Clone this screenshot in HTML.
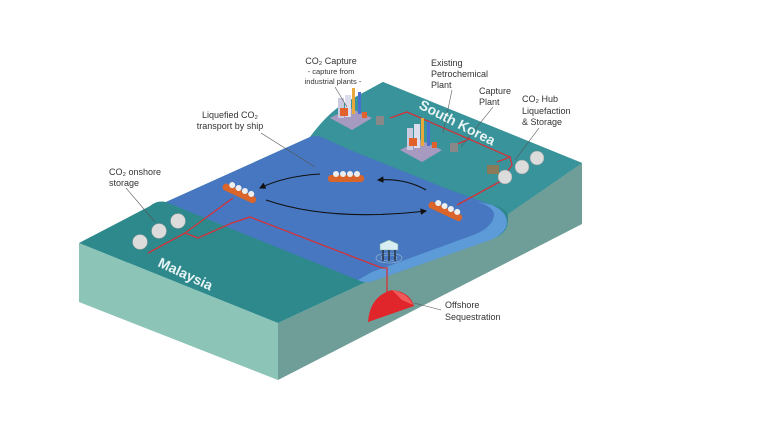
<!DOCTYPE html>
<html><head><meta charset="utf-8"><style>
html,body{margin:0;padding:0;background:#fff;width:768px;height:432px;overflow:hidden}
svg{display:block}
text{font-family:"Liberation Sans",sans-serif;fill:#333}
</style></head><body>
<svg width="768" height="432" viewBox="0 0 768 432">
<!-- front-left face -->
<polygon points="79,243 278,323 278,380 79,302" fill="#8cc4b7"/>
<!-- right face -->
<path d="M278,323 L364,283 L374,278 L490,240 Q508,234 508,222 L508,214 L582,163 L582,224 L278,380 Z" fill="#6f9d97"/>
<!-- top land base -->
<path d="M79,243 L150,206 Q157,200 166,202 L310,137 Q330,110 350,100 L383,82 L582,163 L508,214 L508,222 Q508,234 490,240 L374,278 L364,283 L278,323 Z" fill="#2d898c"/>
<!-- south korea land lighter -->
<path d="M310,137 Q330,110 350,100 L383,82 L582,163 L508,214 Q506,208 492,205 L450,190 L350,150 Z" fill="#38939a"/>
<!-- water -->
<path d="M166,202 L310,137 Q318,134 328,140 L350,150 L450,190 L492,205 Q506,211 507,222 Q507,233 490,240 L376,280 Q366,284 358,280 L227,227 Z" fill="#4677c0"/>
<!-- light water band -->
<path d="M462,198 L492,205 Q506,211 507,222 Q507,233 490,240 L376,280 Q366,284 358,280 L372,272 L476,234 Q494,226 494,214 Q493,204 462,198 Z" fill="#5c9bd8"/>
<!-- red pipes -->
<g stroke="#d2323a" stroke-width="1.3" fill="none">
<polyline points="148,253 185,233 198,238 232,223 250,217 382,268 387,268 387,296"/>
<polyline points="185,233 233,198"/>
<polyline points="390,118 407,112 510,157 497,162"/>
<polyline points="503,180 457,205"/>
<polyline points="455,145 467,140 470,138"/>
<polyline points="510,157 512,165 505,175"/>
</g>
<!-- dome -->
<path d="M368,322 Q370,296 392,290 Q410,292 414,306 Z" fill="#e0262a"/>
<path d="M392,290 Q408,293 413,305 L402,300 Z" fill="#f05a5a"/>
<!-- platform -->
<ellipse cx="389" cy="258" rx="13" ry="5" fill="none" stroke="#9bc" stroke-width="0.6"/>
<ellipse cx="389" cy="258" rx="8" ry="3" fill="none" stroke="#9bc" stroke-width="0.6"/>
<polygon points="380,244 389,240 398,244 398,250 380,250" fill="#d8eef2" stroke="#7aa" stroke-width="0.6"/>
<g stroke="#222" stroke-width="1.2"><line x1="383" y1="250" x2="383" y2="261"/><line x1="389" y1="250" x2="389" y2="261"/><line x1="395" y1="250" x2="395" y2="261"/></g>
<!-- spheres -->
<g fill="#dcdcdc" stroke="#999" stroke-width="0.5">
<circle cx="140" cy="242" r="7.5"/><circle cx="159" cy="231" r="7.5"/><circle cx="178" cy="221" r="7.5"/>
<circle cx="505" cy="177" r="7"/><circle cx="522" cy="167" r="7"/><circle cx="537" cy="158" r="7"/>
</g>
<rect x="487" y="165" width="12" height="9" fill="#8a7a5a"/>
<!-- plants -->
<g>
<polygon points="330,118 350,108 372,118 352,130" fill="#a79ac0"/>
<rect x="338" y="98" width="6" height="20" fill="#c9c9e0"/><rect x="345" y="95" width="6" height="22" fill="#dcdcec"/>
<rect x="352" y="88" width="3" height="26" fill="#e9a93a"/><rect x="358" y="92" width="3" height="22" fill="#4a6fd0"/>
<rect x="340" y="108" width="8" height="8" fill="#e2602c"/><rect x="362" y="112" width="5" height="6" fill="#e2602c"/>
<rect x="376" y="116" width="8" height="9" fill="#888"/>
<polygon points="400,150 420,140 442,150 422,162" fill="#a79ac0"/>
<rect x="407" y="128" width="6" height="22" fill="#c9c9e0"/><rect x="414" y="124" width="6" height="24" fill="#dcdcec"/>
<rect x="421" y="118" width="3" height="28" fill="#e9a93a"/><rect x="427" y="122" width="3" height="24" fill="#4a6fd0"/>
<rect x="409" y="138" width="8" height="8" fill="#e2602c"/><rect x="432" y="142" width="5" height="6" fill="#e2602c"/>
<rect x="450" y="143" width="8" height="9" fill="#888"/>
</g>
<!-- ships -->
<g>
<g transform="translate(346,177)"><rect x="-18" y="-2" width="36" height="7" rx="3" fill="#d9652a"/><g fill="#eee"><circle cx="-10" cy="-3" r="3"/><circle cx="-3" cy="-3" r="3"/><circle cx="4" cy="-3" r="3"/><circle cx="11" cy="-3" r="3"/></g></g>
<g transform="translate(240,192) rotate(25)"><rect x="-18" y="-2" width="36" height="7" rx="3" fill="#d9652a"/><g fill="#eee"><circle cx="-10" cy="-3" r="3"/><circle cx="-3" cy="-3" r="3"/><circle cx="4" cy="-3" r="3"/><circle cx="11" cy="-3" r="3"/></g></g>
<g transform="translate(446,210) rotate(25)"><rect x="-18" y="-2" width="36" height="7" rx="3" fill="#d9652a"/><g fill="#eee"><circle cx="-10" cy="-3" r="3"/><circle cx="-3" cy="-3" r="3"/><circle cx="4" cy="-3" r="3"/><circle cx="11" cy="-3" r="3"/></g></g>
</g>
<!-- arrows -->
<defs><marker id="a" markerWidth="6" markerHeight="6" refX="5" refY="3" orient="auto"><path d="M0,0 L6,3 L0,6 Z" fill="#111"/></marker></defs>
<g stroke="#111" stroke-width="1.1" fill="none">
<path d="M320,174 Q285,176 260,188" marker-end="url(#a)"/>
<path d="M426,190 Q405,178 378,180" marker-end="url(#a)"/>
<path d="M266,200 Q330,222 426,211" marker-end="url(#a)"/>
</g>
<!-- leader lines -->
<g stroke="#555" stroke-width="0.6">
<line x1="335" y1="87" x2="347" y2="107"/><line x1="452" y1="90" x2="443" y2="133"/>
<line x1="493" y1="107" x2="461" y2="147"/><line x1="539" y1="128" x2="515" y2="160"/>
<line x1="261" y1="133" x2="315" y2="167"/><line x1="126" y1="188" x2="155" y2="222"/>
<line x1="441" y1="310" x2="414" y2="303"/>
</g>
<!-- labels -->
<g font-size="9">
<text x="331" y="64" text-anchor="middle">CO₂ Capture</text>
<text x="331" y="74" text-anchor="middle" font-size="7.5">- capture from</text>
<text x="333" y="84" text-anchor="middle" font-size="7.5">industrial plants -</text>
<text x="431" y="66">Existing</text><text x="431" y="77">Petrochemical</text><text x="431" y="88">Plant</text>
<text x="479" y="94">Capture</text><text x="479" y="105">Plant</text>
<text x="522" y="102">CO₂ Hub</text><text x="522" y="114">Liquefaction</text><text x="522" y="125">&amp; Storage</text>
<text x="230" y="118" text-anchor="middle">Liquefied CO₂</text><text x="230" y="129" text-anchor="middle">transport by ship</text>
<text x="109" y="175">CO₂ onshore</text><text x="109" y="186">storage</text>
<text x="445" y="308">Offshore</text><text x="445" y="320">Sequestration</text>
</g>
<text x="418" y="108" font-size="14" font-weight="bold" style="fill:#e8f4f4" transform="rotate(27 418 108)">South Korea</text>
<text x="157" y="266" font-size="14" font-weight="bold" style="fill:#e8f4f4" transform="rotate(25 157 266)">Malaysia</text>
</svg>
</body></html>
